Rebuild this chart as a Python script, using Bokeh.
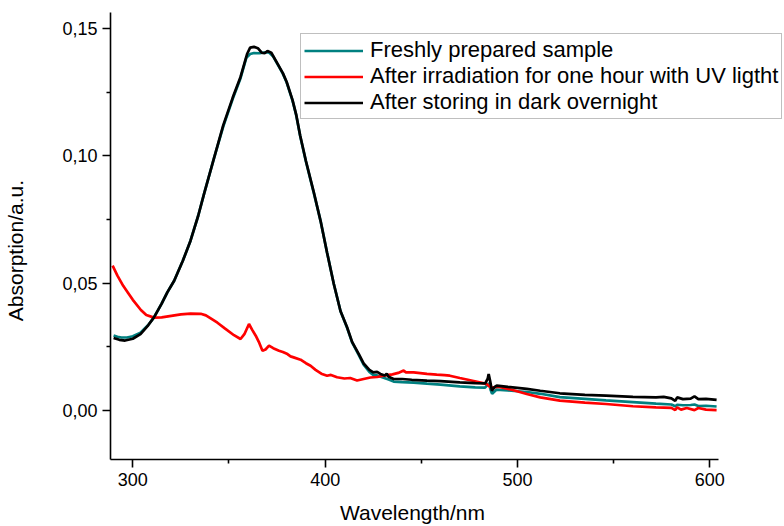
from bokeh.plotting import figure
from bokeh.models import (Range1d, FixedTicker, CustomJSTickFormatter, Legend, LegendItem)
from bokeh.embed import file_html
from bokeh.resources import INLINE

# ---- data ----
wl_fresh = [290, 292, 294, 297, 300, 304, 308, 311, 315, 318, 321.5, 326, 330, 334, 337, 342, 347,
            352, 356, 359, 361, 363, 366, 369, 371, 373, 375, 378, 380, 383, 385, 387, 390, 394,
            397.6, 401, 404.5, 408, 411.4, 414, 417.5, 420, 423, 425, 427, 430, 433, 435.6, 440,
            446, 452.9, 460, 470, 478, 483, 484.6, 485.2, 486, 486.8, 489, 495, 505, 512, 522, 535,
            546, 560, 572, 580, 582, 583, 586, 590, 592, 594, 598, 603.5]
abs_fresh = [0.0295, 0.0290, 0.0287, 0.0287, 0.0292, 0.0306, 0.0336, 0.0366, 0.0420, 0.0465, 0.0510,
             0.0588, 0.0667, 0.0765, 0.0850, 0.0985, 0.1115, 0.1225, 0.1305, 0.1385, 0.1400, 0.1404,
             0.1403, 0.1407, 0.1405, 0.1390, 0.1363, 0.1323, 0.1288, 0.1218, 0.1158, 0.1078, 0.0978,
             0.0858, 0.0745, 0.0620, 0.0497, 0.0390, 0.0325, 0.0268, 0.0218, 0.0180, 0.0152, 0.0140,
             0.0138, 0.0130, 0.0122, 0.0114, 0.0112, 0.0110, 0.0106, 0.0102, 0.0095, 0.0091, 0.0090,
             0.0102, 0.0108, 0.0082, 0.0066, 0.0082, 0.0079, 0.0073, 0.0066, 0.0053, 0.0046, 0.0040,
             0.0033, 0.0027, 0.0024, 0.0017, 0.0023, 0.0021, 0.0022, 0.0024, 0.0018, 0.0019, 0.0016]

wl_uv = [289.5, 292, 295, 297.3, 300, 304.2, 307, 311, 315, 320, 325, 330, 335.3, 338, 340.5, 344,
         348, 352.6, 356, 358, 360.4, 362, 363.9, 365.5, 367.4, 369, 370.8, 373, 376, 378, 380.4,
         382, 384, 387.2, 390, 392.4, 395, 398, 401, 403, 406.2, 410, 413, 416.6, 420, 423.5, 427,
         430.4, 435, 438, 440.8, 442, 446, 452.9, 458, 462, 464.8, 470, 476, 483.8, 486, 487, 490,
         497, 504.8, 511.8, 522, 535, 546, 560, 572, 580, 582, 583, 585, 588, 592, 594, 598, 603.5]
abs_uv = [0.0569, 0.0530, 0.0490, 0.0465, 0.0435, 0.0395, 0.0375, 0.0365, 0.0366, 0.0372, 0.0378,
          0.0381, 0.0380, 0.0374, 0.0362, 0.0345, 0.0322, 0.0296, 0.0281, 0.0300, 0.0340, 0.0318,
          0.0294, 0.0270, 0.0235, 0.0240, 0.0255, 0.0245, 0.0235, 0.0230, 0.0222, 0.0213, 0.0208,
          0.0200, 0.0186, 0.0176, 0.0160, 0.0145, 0.0137, 0.0140, 0.0131, 0.0126, 0.0128, 0.0118,
          0.0124, 0.0130, 0.0132, 0.0137, 0.0142, 0.0148, 0.0157, 0.0150, 0.0150, 0.0144, 0.0141,
          0.0139, 0.0137, 0.0128, 0.0118, 0.0105, 0.0092, 0.0090, 0.0094, 0.0082, 0.0065, 0.0052,
          0.0039, 0.0031, 0.0026, 0.0017, 0.0013, 0.0011, 0.0002, 0.0013, 0.0004, 0.0010, 0.0002,
          0.0010, 0.0004, 0.0002]

wl_dark = [290, 293, 296, 300, 304, 308, 311, 315, 318, 321.5, 326, 330, 334, 337, 342, 347, 352,
           356, 359.4, 361, 363, 365, 367, 368.5, 370, 372, 375, 378, 380, 383, 385, 387, 390, 394,
           397.6, 401, 404.5, 408, 411.4, 414, 417.5, 420, 423, 425, 427, 428.7, 431, 432, 433,
           435.6, 440, 445, 452.9, 460, 470, 478, 483.2, 484.5, 485, 485.8, 486.7, 488, 489.2, 495,
           504.8, 511.8, 522, 535, 546, 560, 572, 576, 580, 582, 583, 586, 590, 592, 594, 598, 603.5]
abs_dark = [0.0285, 0.0278, 0.0275, 0.0282, 0.0300, 0.0335, 0.0366, 0.0420, 0.0465, 0.0510, 0.0588,
            0.0667, 0.0765, 0.0850, 0.0985, 0.1120, 0.1230, 0.1310, 0.1400, 0.1425, 0.1428, 0.1423,
            0.1405, 0.1403, 0.1412, 0.1405, 0.1365, 0.1325, 0.1290, 0.1220, 0.1160, 0.1080, 0.0980,
            0.0860, 0.0745, 0.0620, 0.0497, 0.0390, 0.0327, 0.0270, 0.0222, 0.0185, 0.0160, 0.0150,
            0.0152, 0.0144, 0.0138, 0.0145, 0.0133, 0.0124, 0.0124, 0.0121, 0.0118, 0.0116, 0.0111,
            0.0108, 0.0107, 0.0125, 0.0144, 0.0115, 0.0078, 0.0092, 0.0098, 0.0093, 0.0085, 0.0078,
            0.0068, 0.0062, 0.0059, 0.0054, 0.0052, 0.0054, 0.0048, 0.0038, 0.0052, 0.0045, 0.0047,
            0.0056, 0.0045, 0.0046, 0.0042]

x_major = [300, 400, 500, 600]
x_minor = [350, 450, 550]
y_major = [0.0, 0.05, 0.10, 0.15]
y_minor = [0.025, 0.075, 0.125]

x_title = "Wavelength/nm"
y_title = "Absorption/a.u."
labels = ["Freshly prepared sample",
          "After irradiation for one hour with UV ligtht",
          "After storing in dark overnight"]
colors = ["#008080", "#ff0000", "#000000"]

FONT = "Liberation Sans"
NBSP = "\u00a0"

p = figure(width=784, height=526, output_backend="svg", toolbar_location=None,
           x_range=Range1d(288.4, 638.8), y_range=Range1d(-0.0192, 0.1563),
           min_border_left=110, min_border_right=0, min_border_top=12, min_border_bottom=67)
p.background_fill_color = "white"
p.border_fill_color = "white"
p.outline_line_color = None
p.xgrid.visible = False
p.ygrid.visible = False

r1 = p.line(wl_fresh, abs_fresh, line_color=colors[0], line_width=2.7)
r2 = p.line(wl_uv, abs_uv, line_color=colors[1], line_width=2.7)
r3 = p.line(wl_dark, abs_dark, line_color=colors[2], line_width=2.7)

p.xaxis.ticker = FixedTicker(ticks=x_major, minor_ticks=x_minor)
p.yaxis.ticker = FixedTicker(ticks=y_major, minor_ticks=y_minor)
p.yaxis.formatter = CustomJSTickFormatter(code="return tick.toFixed(2).replace('.', ',');")
p.xaxis.bounds = (288.4, 604.5)

for ax in (p.xaxis[0], p.yaxis[0]):
    ax.axis_line_width = 1.6
    ax.axis_line_color = "black"
    ax.major_tick_line_width = 1.6
    ax.minor_tick_line_width = 1.6
    ax.major_tick_line_color = "black"
    ax.minor_tick_line_color = "black"
    ax.major_tick_in = 0
    ax.major_tick_out = 8
    ax.minor_tick_in = 0
    ax.minor_tick_out = 4
    ax.major_label_text_font = FONT
    ax.major_label_text_font_size = "18px"
    ax.major_label_text_color = "black"
    ax.major_label_standoff = 5
    ax.axis_label_text_font = FONT
    ax.axis_label_text_font_size = "21px"
    ax.axis_label_text_font_style = "normal"
    ax.axis_label_text_color = "black"

# trailing non-breaking spaces shift the centred titles to where the reference has them
p.xaxis.axis_label = x_title + NBSP * 12
p.yaxis.axis_label = y_title + NBSP * 5
p.xaxis.axis_label_standoff = 12
p.yaxis.axis_label_standoff = 32

legend = Legend(items=[LegendItem(label=labels[0], renderers=[r1]),
                       LegendItem(label=labels[1], renderers=[r2]),
                       LegendItem(label=labels[2], renderers=[r3])],
                location=(190, 340))
legend.label_text_font = FONT
legend.label_text_font_size = "22px"
legend.label_text_color = "black"
legend.glyph_width = 59
legend.glyph_height = 25
legend.label_height = 25
legend.label_standoff = 7
legend.spacing = 0
legend.padding = 3
legend.margin = 0
legend.border_line_color = "#7f7f7f"
legend.border_line_width = 1
legend.background_fill_color = "white"
legend.background_fill_alpha = 1.0
p.add_layout(legend, "center")

open("out.html", "w").write(file_html(p, INLINE))
